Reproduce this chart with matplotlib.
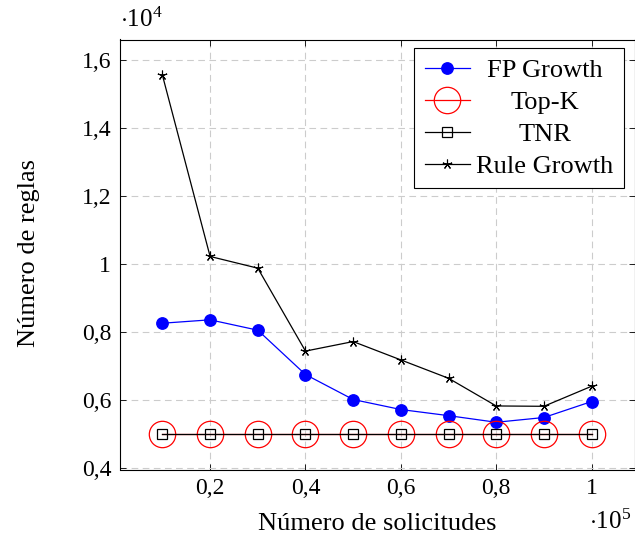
import matplotlib
matplotlib.use("Agg")
import matplotlib.pyplot as plt
from matplotlib.ticker import FuncFormatter

plt.rcParams['font.family'] = ['Liberation Serif', 'DejaVu Serif']
plt.rcParams['mathtext.fontset'] = 'custom'
plt.rcParams['mathtext.rm'] = 'Liberation Serif'
plt.rcParams['mathtext.it'] = 'Liberation Serif:italic'

# Data
solicitudes = [10000, 20000, 30000, 40000, 50000, 60000, 70000, 80000, 90000, 100000]
fp_growth = [8250, 8350, 8045, 6740, 6005, 5710, 5530, 5335, 5475, 5945]
top_k = [5000, 5000, 5000, 5000, 5000, 5000, 5000, 5000, 5000, 5000]
tnr = [5000, 5000, 5000, 5000, 5000, 5000, 5000, 5000, 5000, 5000]
rule_growth = [15550, 10215, 9870, 7430, 7710, 7170, 6630, 5815, 5805, 6395]
labels = ["FP Growth", "Top-K", "TNR", "Rule Growth"]

xs = [v / 1e5 for v in solicitudes]
def sc(a):
    return [v / 1e4 for v in a]

fig = plt.figure(figsize=(6.35, 5.42), dpi=100)
ax = fig.add_axes([119.5/635, 1 - 469.5/542, (634.5-119.5)/635, (469.5-39.5)/542])

ax.plot(xs, sc(fp_growth), color='#0000ff', lw=0.9, marker='o', ms=8.2, label=labels[0], zorder=3)
ax.plot(xs, sc(top_k), color='#ff0000', lw=0.9, marker='o', ms=19, mfc='none', mec='#ff0000', mew=0.9, label=labels[1], zorder=3)
ax.plot(xs, sc(tnr), color='black', lw=0.9, marker='s', ms=7, mfc='none', mec='black', mew=0.9, label=labels[2], zorder=4)
ax.plot(xs, sc(rule_growth), color='black', lw=0.9, marker=(5, 2, 0), ms=7, mew=0.8, label=labels[3], zorder=4)

ax.set_xlim(0.01, 1.09)
ax.set_ylim(0.3945, 1.66)
fmt = FuncFormatter(lambda v, p: ('%g' % round(v, 6)).replace('.', ','))
ax.xaxis.set_major_formatter(fmt)
ax.yaxis.set_major_formatter(fmt)
ax.set_xticks([0.2, 0.4, 0.6, 0.8, 1.0])
ax.set_yticks([0.4, 0.6, 0.8, 1.0, 1.2, 1.4, 1.6])

ax.grid(True, color='#cccccc', linestyle=(0, (6, 4)), lw=0.8)
ax.set_axisbelow(True)
ax.tick_params(direction='in', length=4, width=0.6, top=True, right=True, labelsize=17, pad=6, colors='black')
for s in ax.spines.values():
    s.set_linewidth(0.8)

ax.set_xlabel("Número de solicitudes", fontsize=19)
ax.set_ylabel("Número de reglas", fontsize=19)
ax.xaxis.set_label_coords((377 - 119.5) / 515, (469.5 - 524) / 430)
ax.xaxis.label.set_va('center')
ax.yaxis.set_label_coords((29 - 119.5) / 515, (469.5 - 253.5) / 430)
ax.yaxis.label.set_va('center')

fig.text(120/635, 1 - 20/542, r'$\cdot 10^{4}$', fontsize=18, ha='left', va='center')
fig.text(589/635, 1 - 522/542, r'$\cdot 10^{5}$', fontsize=18, ha='left', va='center')

leg = ax.legend(loc='upper right', bbox_to_anchor=((624 - 119.5) / 515, (469.5 - 48) / 430), borderaxespad=0,
                fontsize=19, frameon=True, fancybox=False,
                edgecolor='black', framealpha=1, handlelength=1.7, labelspacing=0.32, borderpad=0.4,
                handletextpad=0.25, numpoints=1)
leg.get_frame().set_linewidth(0.8)

fig.canvas.draw()
r = fig.canvas.get_renderer()
ws = [t.get_window_extent(r).width for t in leg.get_texts()]
W = max(ws)
for t, w in zip(leg.get_texts(), ws):
    t.set_position(((W - w) / 2, 0))

fig.savefig("out.png", dpi=100)
